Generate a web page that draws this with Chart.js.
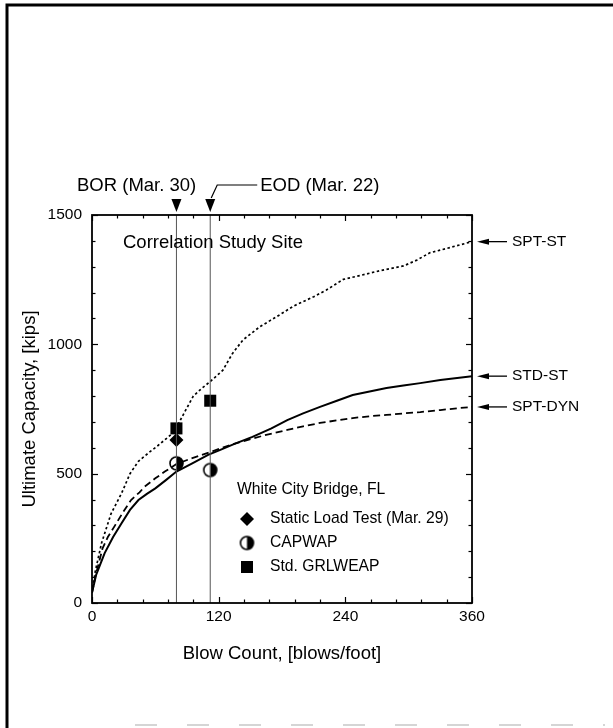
<!DOCTYPE html>
<html>
<head>
<meta charset="utf-8">
<script src="https://cdn.jsdelivr.net/npm/chart.js@4/dist/chart.umd.min.js"></script>
<style>
  html, body { margin: 0; padding: 0; background: #fff; }
  #wrap { width: 613px; height: 728px; position: relative; }
</style>
</head>
<body>
<div id="wrap"><canvas id="c" width="613" height="728"></canvas></div>
<script>
const FONT = '"Liberation Sans", Arial, Helvetica, sans-serif';

// Predicted ultimate capacity (kips) against blow count (blows/foot)
const sptStBlows = [0, 3, 9, 18, 28, 36, 44, 55, 62, 74, 80, 88, 96, 104, 112, 124, 133, 143, 159, 175, 191, 210, 222, 238, 256, 273, 295, 308, 320, 339, 360];
const sptStKips  = [40, 120, 231, 345, 424, 500, 548, 585, 607, 648, 678, 740, 800, 830, 856, 900, 964, 1017, 1068, 1107, 1148, 1184, 1210, 1251, 1268, 1285, 1303, 1326, 1354, 1374, 1397];

const stdStBlows = [0, 4, 12, 20, 28, 36, 44, 52, 60, 70, 80, 95, 110, 121, 135, 152, 170, 185, 200, 216, 232, 247, 263, 279, 295, 311, 330, 360];
const stdStKips  = [40, 110, 193, 255, 308, 360, 398, 422, 443, 475, 508, 540, 573, 591, 615, 642, 675, 707, 733, 758, 782, 804, 818, 831, 841, 850, 862, 877];

const sptDynBlows = [0, 3, 10, 15, 22, 30, 37, 45, 50, 60, 69, 80, 94, 113, 131, 147, 165, 185, 200, 216, 232, 247, 263, 279, 295, 311, 330, 349, 360];
const sptDynKips  = [40, 100, 211, 255, 301, 355, 398, 428, 450, 482, 508, 537, 559, 585, 611, 630, 650, 669, 683, 696, 706, 715, 722, 727, 733, 738, 746, 754, 758];

const curveNames = ['SPT-ST', 'STD-ST', 'SPT-DYN'];

// Blow counts at beginning of restrike and end of driving
const borBlows = 80;
const eodBlows = 112;
const eventLabels = ['BOR (Mar. 30)', 'EOD (Mar. 22)'];

// Measured / analysed capacities
const staticBlows = [80];
const staticKips  = [630];
const capwapBlows = [80, 112];
const capwapKips  = [540, 514];
const grlweapBlows = [80, 112];
const grlweapKips  = [675, 782];

const legendTitle = 'White City Bridge, FL';
const legendNames = ['Static Load Test (Mar. 29)', 'CAPWAP', 'Std. GRLWEAP'];

// Axis ticks
const xTickValues = [0, 120, 240, 360];
const yTickValues = [0, 500, 1000, 1500];

const pts = (xs, ys) => xs.map((x, i) => ({ x, y: ys[i] }));

// Half-filled circle marker (right half black)
function halfCircle(r) {
  const s = 2 * r + 4;
  const c = document.createElement('canvas');
  c.width = s; c.height = s;
  const g = c.getContext('2d');
  const m = s / 2;
  g.fillStyle = '#fff';
  g.beginPath(); g.arc(m, m, r, 0, Math.PI * 2); g.fill();
  g.fillStyle = '#000';
  g.beginPath(); g.moveTo(m, m - r); g.arc(m, m, r, -Math.PI / 2, Math.PI / 2); g.closePath(); g.fill();
  g.strokeStyle = '#000'; g.lineWidth = 1.6;
  g.beginPath(); g.arc(m, m, r, 0, Math.PI * 2); g.stroke();
  return c;
}
const capwapMark = halfCircle(6.5);

function diamond(ctx, x, y, r) {
  ctx.beginPath();
  ctx.moveTo(x - r, y); ctx.lineTo(x, y - r); ctx.lineTo(x + r, y); ctx.lineTo(x, y + r);
  ctx.closePath(); ctx.fill();
}

// Page frame, drawn behind the chart
const pageFrame = {
  id: 'pageFrame',
  beforeDraw(chart) {
    const ctx = chart.ctx;
    ctx.save();
    ctx.fillStyle = '#fff';
    ctx.fillRect(0, 0, chart.width, chart.height);
    ctx.strokeStyle = '#000';
    ctx.lineWidth = 3;
    ctx.beginPath();
    ctx.moveTo(7, 728); ctx.lineTo(7, 5); ctx.lineTo(613, 5);
    ctx.stroke();
    ctx.strokeStyle = '#c8c8c8';
    ctx.lineWidth = 1.5;
    ctx.setLineDash([22, 30]);
    ctx.beginPath(); ctx.moveTo(135, 725); ctx.lineTo(605, 725); ctx.stroke();
    ctx.restore();
  }
};

// Plot box with inward ticks on all four sides, plus annotations
const plotDecor = {
  id: 'plotDecor',
  afterDatasetsDraw(chart) {
    const { ctx, chartArea: a, scales: { x, y } } = chart;
    ctx.save();
    ctx.strokeStyle = '#000';
    ctx.lineWidth = 1.2;
    const seg = (x1, y1, x2, y2) => { ctx.beginPath(); ctx.moveTo(x1, y1); ctx.lineTo(x2, y2); ctx.stroke(); };
    for (let v = 0; v <= 360; v += 24) {
      const px = Math.round(x.getPixelForValue(v)) + 0.5;
      const len = v % 120 === 0 ? 6 : 3.5;
      seg(px, a.bottom, px, a.bottom - len);
      seg(px, a.top, px, a.top + len);
    }
    for (let v = 0; v <= 1500; v += 100) {
      const py = Math.round(y.getPixelForValue(v)) + 0.5;
      const len = v % 500 === 0 ? 6 : 3.5;
      seg(a.left, py, a.left + len, py);
      seg(a.right, py, a.right - len, py);
    }
    ctx.lineWidth = 1.8;
    ctx.strokeRect(a.left, a.top, a.right - a.left, a.bottom - a.top);

    // Event markers above the plot
    ctx.fillStyle = '#000';
    const tri = (px) => {
      ctx.beginPath();
      ctx.moveTo(px - 5, a.top - 16); ctx.lineTo(px + 5, a.top - 16); ctx.lineTo(px, a.top - 3);
      ctx.closePath(); ctx.fill();
    };
    const bx = x.getPixelForValue(borBlows);
    const ex = x.getPixelForValue(eodBlows);
    tri(bx); tri(ex);
    ctx.lineWidth = 1.2;
    ctx.beginPath();
    ctx.moveTo(ex + 1, a.top - 17); ctx.lineTo(ex + 7, a.top - 30); ctx.lineTo(ex + 47, a.top - 30);
    ctx.stroke();

    ctx.font = '18.5px ' + FONT;
    ctx.textBaseline = 'middle';
    ctx.textAlign = 'left';
    ctx.fillText(eventLabels[0], a.left - 15, a.top - 29);
    ctx.fillText(eventLabels[1], ex + 50, a.top - 29);

    ctx.fillText('Correlation Study Site', a.left + 31, a.top + 28);

    // Curve labels at the right edge
    const ends = [sptStKips[sptStKips.length - 1], stdStKips[stdStKips.length - 1], sptDynKips[sptDynKips.length - 1]];
    ctx.font = '15.5px ' + FONT;
    ends.forEach((v, i) => {
      const py = y.getPixelForValue(v);
      const x0 = a.right + 5;
      ctx.beginPath();
      ctx.moveTo(x0, py); ctx.lineTo(x0 + 12, py - 3); ctx.lineTo(x0 + 12, py + 3); ctx.closePath(); ctx.fill();
      ctx.lineWidth = 1.3;
      seg(x0 + 10, py, x0 + 30, py);
      ctx.fillText(curveNames[i], x0 + 35, py);
    });

    // Legend
    const lx = a.left + 145;
    const ly = a.top + 275;
    ctx.font = '15.7px ' + FONT;
    ctx.fillText(legendTitle, lx, ly);
    const mx = lx + 10;
    diamond(ctx, mx, ly + 29, 7);
    ctx.drawImage(capwapMark, mx - capwapMark.width / 2, ly + 53 - capwapMark.height / 2);
    ctx.fillRect(mx - 6, ly + 71, 12, 12);
    ctx.fillText(legendNames[0], lx + 33, ly + 29);
    ctx.fillText(legendNames[1], lx + 33, ly + 53);
    ctx.fillText(legendNames[2], lx + 33, ly + 77);
    ctx.restore();
  }
};

const ctx = document.getElementById('c').getContext('2d');
new Chart(ctx, {
  type: 'scatter',
  data: {
    datasets: [
      { label: 'BOR', data: pts([borBlows, borBlows], [0, 1500]), showLine: true, borderColor: '#555', borderWidth: 1, pointRadius: 0 },
      { label: 'EOD', data: pts([eodBlows, eodBlows], [0, 1500]), showLine: true, borderColor: '#555', borderWidth: 1, pointRadius: 0 },
      { label: curveNames[0], data: pts(sptStBlows, sptStKips), showLine: true, borderColor: '#000', borderWidth: 1.7, borderDash: [2.5, 2.5], pointRadius: 0, tension: 0 },
      { label: curveNames[1], data: pts(stdStBlows, stdStKips), showLine: true, borderColor: '#000', borderWidth: 2, pointRadius: 0, tension: 0 },
      { label: curveNames[2], data: pts(sptDynBlows, sptDynKips), showLine: true, borderColor: '#000', borderWidth: 1.8, borderDash: [7, 4], pointRadius: 0, tension: 0 },
      { label: legendNames[2], data: pts(grlweapBlows, grlweapKips), pointStyle: 'rect', pointRadius: 8.5, backgroundColor: '#000', borderColor: '#000', borderWidth: 0 },
      { label: legendNames[0], data: pts(staticBlows, staticKips), pointStyle: 'rectRot', pointRadius: 7, backgroundColor: '#000', borderColor: '#000', borderWidth: 0 },
      { label: legendNames[1], data: pts(capwapBlows, capwapKips), pointStyle: capwapMark, pointRadius: 7 }
    ]
  },
  options: {
    responsive: false,
    animation: false,
    events: [],
    layout: { padding: { top: 215, right: 141, left: 0, bottom: 0 } },
    plugins: { legend: { display: false }, tooltip: { enabled: false } },
    scales: {
      x: {
        type: 'linear', min: 0, max: 360,
        afterBuildTicks: (s) => { s.ticks = xTickValues.map(v => ({ value: v })); },
        afterFit: (s) => { s.height = 125; },
        grid: { display: false, drawTicks: false },
        border: { display: false },
        ticks: { color: '#000', padding: 4, font: { family: FONT, size: 15.5 }, callback: (v) => String(v) },
        title: { display: true, text: 'Blow Count, [blows/foot]', color: '#000', font: { family: FONT, size: 18.5 }, padding: { top: 0, bottom: 63 } }
      },
      y: {
        type: 'linear', min: 0, max: 1500,
        afterBuildTicks: (s) => { s.ticks = yTickValues.map(v => ({ value: v })); },
        afterFit: (s) => { s.width = 92; },
        grid: { display: false, drawTicks: false },
        border: { display: false },
        ticks: { color: '#000', padding: 10, font: { family: FONT, size: 15.5 }, callback: (v) => String(v) },
        title: { display: true, text: 'Ultimate Capacity, [kips]', color: '#000', font: { family: FONT, size: 18.5 }, padding: { top: 19, bottom: 0 } }
      }
    }
  },
  plugins: [pageFrame, plotDecor]
});
</script>
</body>
</html>
